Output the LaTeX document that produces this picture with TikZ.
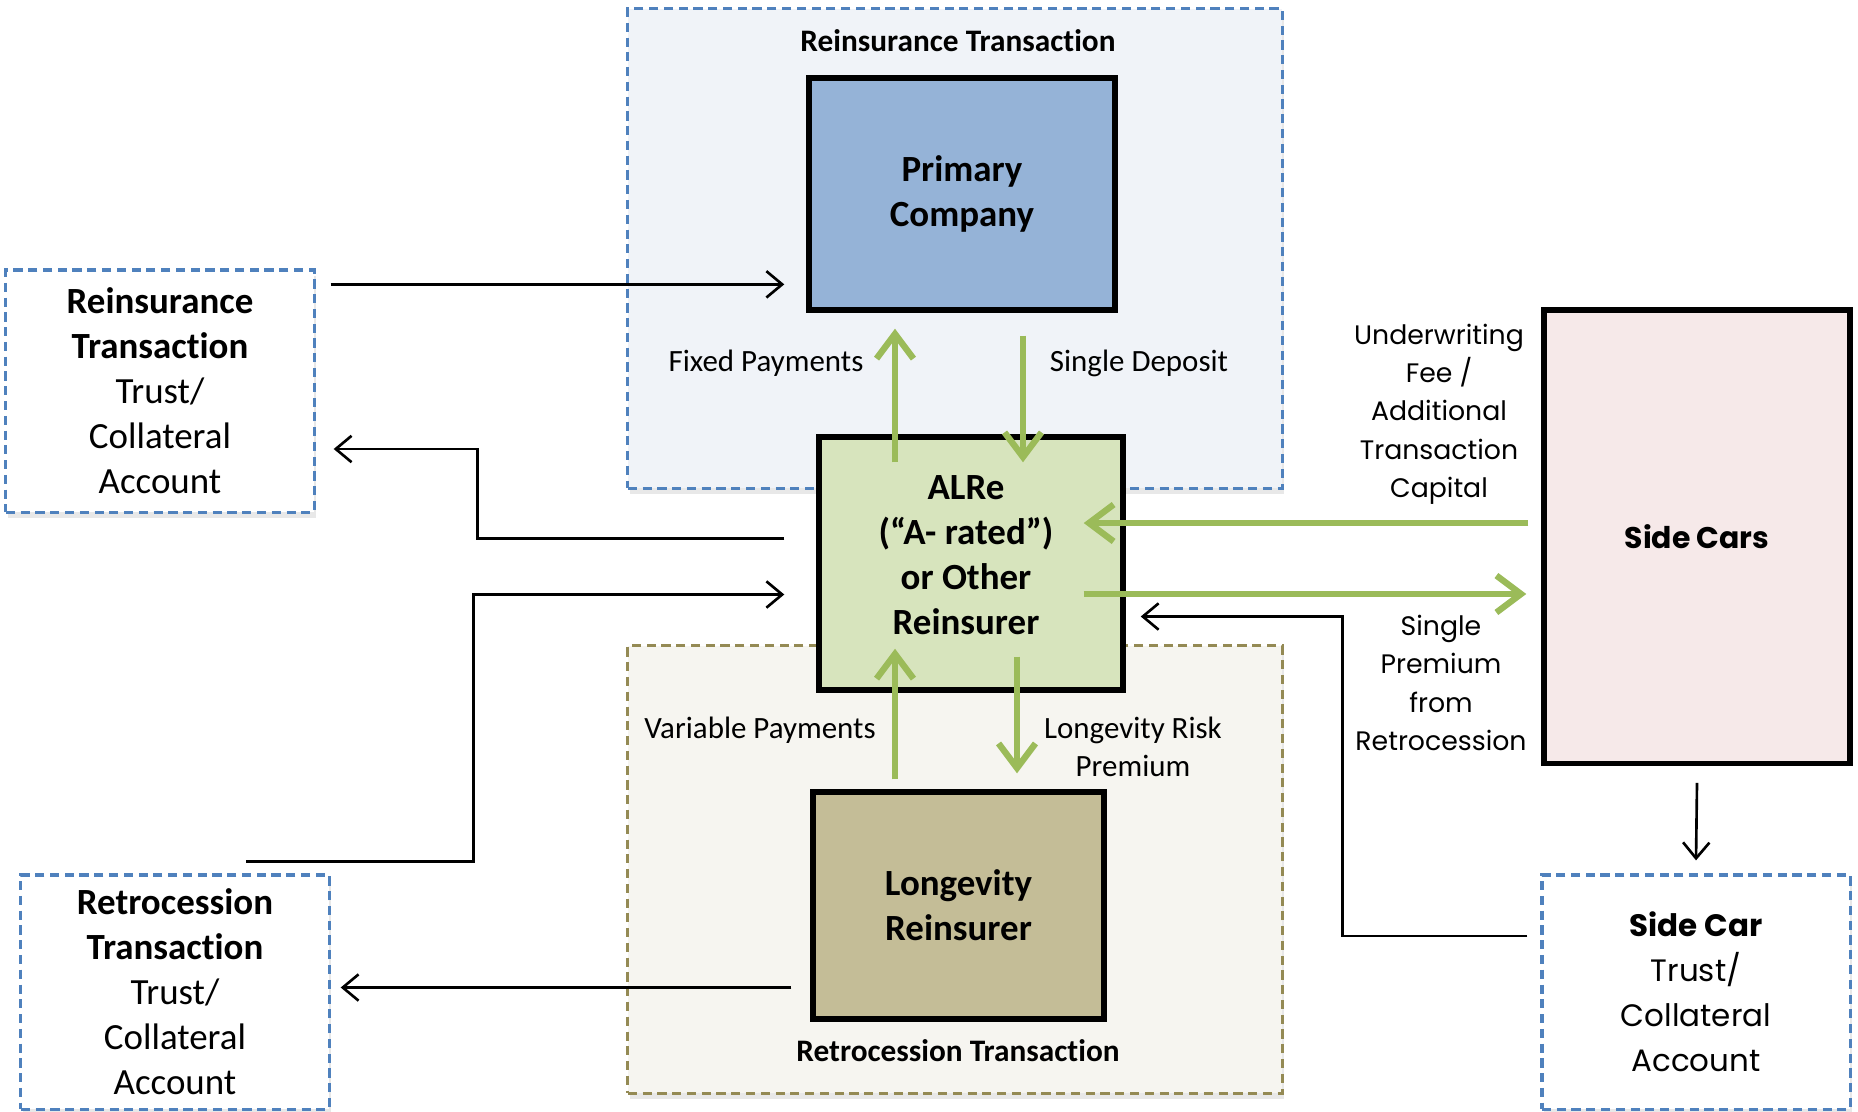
\documentclass[tikz,border=0pt]{standalone}
\usepackage{fontspec}
\setmainfont{Carlito}[Ligatures=NoCommon]
\newfontfamily\gothic{Poppins}
\usepackage{tikz}
\usetikzlibrary{arrows.meta,positioning,calc,shadows}

\definecolor{pcblue}{HTML}{95B3D7}
\definecolor{alregreen}{HTML}{D7E4BD}
\definecolor{longtan}{HTML}{C4BD97}
\definecolor{carpink}{HTML}{F6E9E9}
\definecolor{dashblue}{HTML}{4F81BD}
\definecolor{dasholive}{HTML}{948A54}
\definecolor{cashgreen}{HTML}{9BBB59}
\definecolor{reinfill}{HTML}{F0F3F8}
\definecolor{retrofill}{HTML}{F6F5F0}

\begin{document}
\begin{tikzpicture}[x=0.01cm,y=-0.01cm,
  box/.style={draw=black, line width=1.5pt, align=center, inner sep=0pt,
    font=\bfseries\fontsize{10.5}{12.8}\selectfont},
  region/.style={line width=0.9pt, dash pattern=on 2.6pt off 1.6pt, inner sep=0pt,
    drop shadow={opacity=0.18, shadow xshift=0.6pt, shadow yshift=-1.6pt}},
  trustbox/.style={region, draw=dashblue, fill=white, align=center,
    minimum width=3.08cm, minimum height=2.36cm},
  flow/.style={-{Straight Barb[length=4.5pt,width=7.5pt]}, line width=0.75pt},
  cash/.style={-{Straight Barb[length=7pt,width=10.5pt]}, line width=1.8pt, draw=cashgreen},
  lbl/.style={font=\fontsize{8.8}{10.8}\selectfont, align=center},
  glbl/.style={font=\gothic\fontsize{7.6}{10.9}\selectfont, align=center}]
\useasboundingbox (0,0) rectangle (1858,1111);

% Transaction regions
\node[region, draw=dashblue, fill=reinfill, minimum width=6.54cm, minimum height=4.79cm] (reinreg) at (955,248.5) {};
\node[region, draw=dasholive, fill=retrofill, minimum width=6.54cm, minimum height=4.47cm] (retroreg) at (955,869.5) {};
\node[font=\bfseries\fontsize{8.9}{10}\selectfont] (reintitle) at (958,41) {Reinsurance Transaction};
\node[font=\bfseries\fontsize{8.9}{10}\selectfont] (retrotitle) at (958,1051) {Retrocession Transaction};

% Companies
\node[box, fill=pcblue, minimum width=3.06cm, minimum height=2.32cm] (primary) at (962,194) {Primary\\Company};
\node[box, fill=alregreen, minimum width=3.04cm, minimum height=2.53cm] (alre) at (971,563.5) {};
\node[box, draw=none, fill=none] (alretext) at (966,555) {ALRe\\(“A- rated”)\\or Other\\Reinsurer};
\node[box, fill=longtan, minimum width=2.91cm, minimum height=2.27cm] (longev) at (958.5,905.5) {Longevity\\Reinsurer};
\node[box, fill=carpink, minimum width=3.06cm, minimum height=4.53cm, font=\gothic\bfseries\fontsize{8.5}{10}\selectfont] (sidecars) at (1697,536.5) {Side Cars};

% Trust / collateral accounts
\node[trustbox, font=\fontsize{10.5}{12.8}\selectfont, minimum height=2.42cm] (reintrust) at (160,391)
  {\textbf{Reinsurance}\\\textbf{Transaction}\\Trust/\\Collateral\\Account};
\node[trustbox, font=\fontsize{10.5}{12.8}\selectfont, minimum height=2.34cm] (retrotrust) at (175,992)
  {\textbf{Retrocession}\\\textbf{Transaction}\\Trust/\\Collateral\\Account};
\node[trustbox, font=\gothic\fontsize{8.8}{12.8}\selectfont, minimum height=2.34cm] (cartrust) at (1696,992)
  {\textbf{Side Car}\\Trust/\\Collateral\\Account};

% Collateral flows
\draw[flow, shorten >=0.22cm] ([shift={(15,16)}]reintrust.north east) coordinate (rin) -- (primary.west |- rin);
\draw[flow] ([shift={(-32,-25)}]alre.west) -| ([shift={(162,58)}]reintrust.east) -- ([shift={(18,58)}]reintrust.east);
\draw[flow] ([shift={(71,-12)}]retrotrust.north) -| ([shift={(-343,31)}]alre.west) -- ([shift={(-32,31)}]alre.west);
\draw[flow, shorten >=0.1cm] ([shift={(-19,82)}]longev.west) coordinate (rout) -- (retrotrust.east |- rout);
\draw[flow] ([shift={(-13,-56)}]cartrust.west) -| ([shift={(217,53)}]alre.east) -- ([shift={(15,53)}]alre.east);
\draw[flow] ([yshift=-0.17cm]sidecars.south) -- ([yshift=0.13cm]cartrust.north);

% Cash flows
\draw[cash] ([shift={(-76,28)}]alre.north) -- ([shift={(-67,16)}]primary.south);
\draw[cash] ([shift={(61,23)}]primary.south) -- ([shift={(52,28)}]alre.north);
\draw[cash] ([shift={(-13,-13.5)}]sidecars.west) -- ([shift={(-42,-40.5)}]alre.east);
\draw[cash] ([shift={(-42,30.5)}]alre.east) -- ([shift={(-15,57.5)}]sidecars.west);
\draw[cash] ([shift={(-63.5,-10)}]longev.north) -- ([shift={(-76,-44)}]alre.south);
\draw[cash] ([shift={(46,-36)}]alre.south) -- ([shift={(58.5,-16)}]longev.north);

% Labels
\node[lbl] (fixlbl) at (766,363) {Fixed Payments};
\node[lbl] (deplbl) at (1139,363) {Single Deposit};
\node[lbl] (varlbl) at (760,730) {Variable Payments};
\node[lbl] (riskbl) at (1133,747) {Longevity Risk\\Premium};
\node[glbl] (feelbl) at (1439,414) {Underwriting\\Fee /\\Additional\\Transaction\\Capital};
\node[glbl] (premlbl) at (1441,683) {Single\\Premium\\from\\Retrocession};
\end{tikzpicture}
\end{document}
